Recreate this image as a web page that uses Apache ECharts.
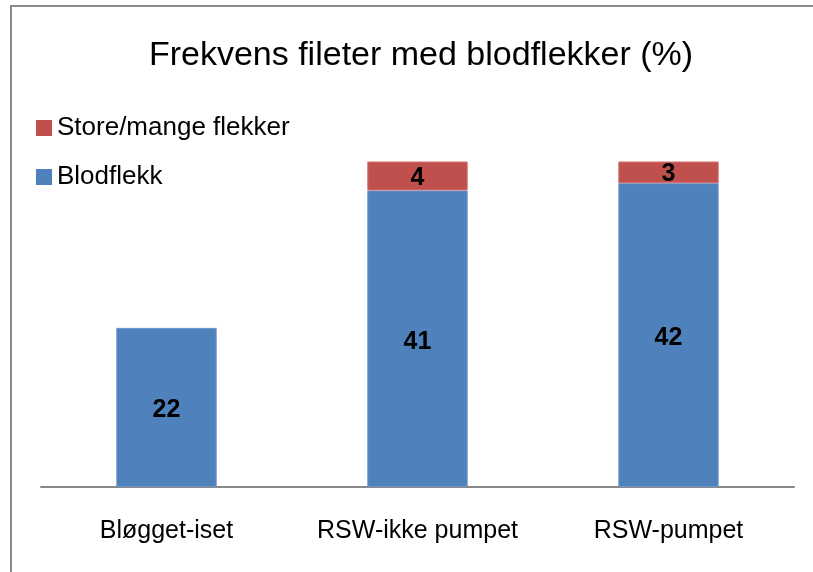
<!DOCTYPE html>
<html>
<head>
<meta charset="utf-8">
<script src="https://cdn.jsdelivr.net/npm/echarts@6/dist/echarts.min.js"></script>
<style>
  html, body { margin: 0; padding: 0; background: #fff; }
  #main { width: 813px; height: 572px; }
</style>
</head>
<body>
<div id="main"></div>
<script>
// kategorier og verdier lest av figuren
const categories = ['Bløgget-iset', 'RSW-ikke pumpet', 'RSW-pumpet'];
const blodflekk = [22, 41, 42];
const storeFlekker = [null, 4, 3];
const seriesNames = ['Blodflekk', 'Store/mange flekker'];

const font = 'Liberation Sans';

const myChart = echarts.init(document.getElementById('main'));
myChart.setOption({
    animation: false,
    color: ['#4F81BD', '#C0504D'],
    title: {
        text: 'Frekvens fileter med blodflekker (%)',
        left: 416,
        textAlign: 'center',
        top: 34,
        textStyle: { fontFamily: font, fontSize: 34, fontWeight: 'normal', color: '#000' }
    },
    legend: {
        data: ['Store/mange flekker', 'Blodflekk'],
        orient: 'vertical',
        left: 36,
        top: 115,
        padding: 0,
        itemWidth: 16,
        itemHeight: 16,
        itemGap: 23,
        icon: 'rect',
        selectedMode: false,
        itemStyle: { borderWidth: 0 },
        textStyle: { fontFamily: font, fontSize: 26, lineHeight: 26, color: '#000' }
    },
    grid: { left: 41, right: 19, top: 53, bottom: 85 },
    xAxis: {
        type: 'category',
        data: categories,
        axisLine: { lineStyle: { color: '#888', width: 2 } },
        axisTick: { show: false },
        axisLabel: {
            interval: 0,
            hideOverlap: false,
            fontFamily: font, fontSize: 25, color: '#000', margin: 32
        }
    },
    yAxis: {
        type: 'value',
        min: 0,
        max: 60,
        show: false,
        splitLine: { show: false }
    },
    graphic: [{
        type: 'rect',
        shape: { x: 11, y: 6, width: 820, height: 580 },
        style: { fill: 'none', stroke: '#8a8a8a', lineWidth: 2 },
        silent: true
    }],
    series: [{
        name: seriesNames[0],
        type: 'bar',
        stack: 'total',
        data: blodflekk,
        barCategoryGap: '60%',
        itemStyle: { borderColor: '#6d97cc', borderWidth: 1 },
        label: {
            show: true,
            position: 'inside',
            offset: [0, 3],
            fontFamily: font, fontSize: 25, fontWeight: 'bold', color: '#000'
        }
    }, {
        name: seriesNames[1],
        type: 'bar',
        stack: 'total',
        data: storeFlekker,
        itemStyle: { borderColor: '#d4706d', borderWidth: 1 },
        label: {
            show: true,
            position: 'inside',
            offset: [0, 2],
            fontFamily: font, fontSize: 25, fontWeight: 'bold', color: '#000'
        }
    }]
});
</script>
</body>
</html>
